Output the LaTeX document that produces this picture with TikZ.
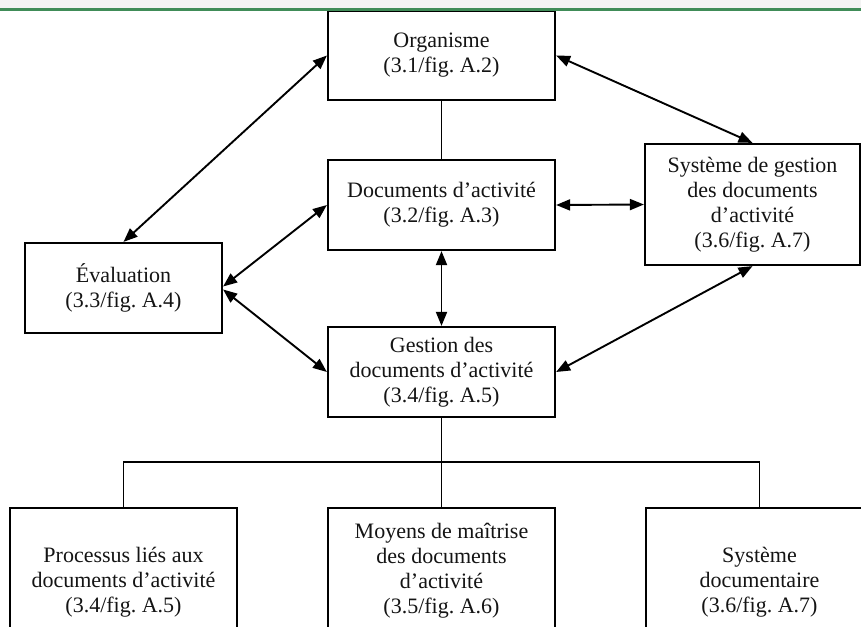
\documentclass[tikz,border=0pt]{standalone}
\usepackage{fontspec}
\setmainfont{Liberation Serif}
\frenchspacing
\usetikzlibrary{arrows.meta}
\definecolor{hdrgray}{RGB}{243,243,243}
\definecolor{hdrgreen}{RGB}{64,140,88}
\definecolor{txt}{RGB}{20,20,20}
\begin{document}
\begin{tikzpicture}[x=1pt,y=-1pt,
  box/.style={draw=black,line width=2.2pt,rectangle,inner sep=0pt,align=center,
    text=txt,font=\fontsize{22}{25}\selectfont},
  conn/.style={line width=1.9pt,draw=black},
  biarrow/.style={conn,{Triangle[length=14pt,width=11pt]}-{Triangle[length=14pt,width=11pt]}}]
\useasboundingbox (0,0) rectangle (861,626);
\clip (0,0) rectangle (861,626);
\fill[white] (0,0) rectangle (861,626);
% boxes
\node[box,minimum width=227pt,minimum height=89pt] (org) at (441.5,55.5) {Organisme\\(3.1/fig. A.2)};
\node[box,minimum width=227pt,minimum height=90pt] (doc) at (441.5,205) {Documents d’activité\\(3.2/fig. A.3)};
\node[box,minimum width=227pt,minimum height=90pt] (gest) at (441.5,372) {Gestion des\\documents d’activité\\(3.4/fig. A.5)};
\node[box,minimum width=197pt,minimum height=90pt] (eval) at (123.5,288) {Évaluation\\(3.3/fig. A.4)};
\node[box,minimum width=215pt,minimum height=121pt] (sgd) at (752.5,204.5) {Système de gestion\\des documents\\d’activité\\(3.6/fig. A.7)};
\node[box,minimum width=227pt,minimum height=148pt] (proc) at (123.5,582) {Processus liés aux\\documents d’activité\\(3.4/fig. A.5)};
\node[box,minimum width=227pt,minimum height=126pt] (moy) at (441.5,571) {Moyens de maîtrise\\des documents\\d’activité\\(3.5/fig. A.6)};
\node[box,minimum width=227pt,minimum height=148pt] (sysd) at (759.5,582) {Système\\documentaire\\(3.6/fig. A.7)};
% connectors
\draw[conn] (org.south) -- (doc.north);
\draw[biarrow] (org.west) -- (eval.north);
\draw[biarrow] (org.east) -- (sgd.north);
\draw[biarrow] (doc.west) -- ([yshift=1.5pt]eval.east);
\draw[biarrow] ([yshift=-1.5pt]eval.east) -- (gest.west);
\draw[biarrow] (doc.east) -- (sgd.west);
\draw[biarrow] (doc.south) -- (gest.north);
\draw[biarrow] (gest.east) -- (sgd.south);
\draw[conn] (gest.south) -- (moy.north);
\draw[conn] (proc.north) -- ++(0,-45) -| (sysd.north);
% page header (drawn last, over the clipped top box edge)
\fill[hdrgray] (0,0) rectangle (861,8.5);
\fill[hdrgreen] (0,8.5) rectangle (861,11.5);
\end{tikzpicture}
\end{document}
